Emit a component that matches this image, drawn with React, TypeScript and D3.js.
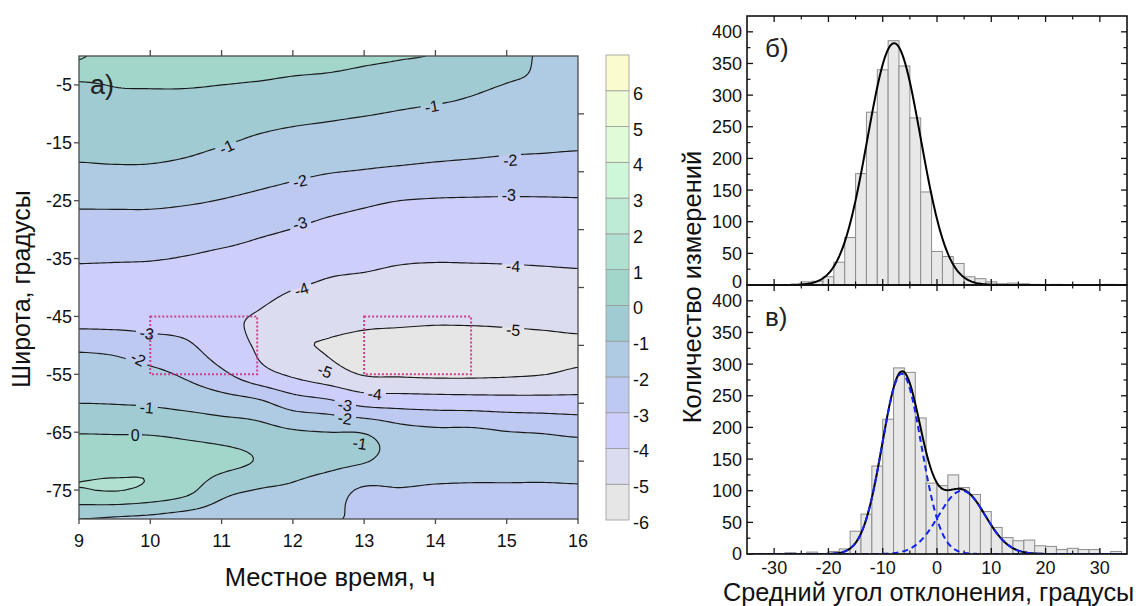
import React, { useMemo } from "react";
import * as d3 from "d3";

// ---------- Panel a: contour map of mean deviation ----------
const hours = [9, 9.5, 10, 10.5, 11, 11.5, 12, 12.5, 13, 13.5, 14, 14.5, 15, 15.5, 16];
const latitudes = [0, -5, -10, -15, -20, -25, -30, -35, -40, -45, -50, -55, -60, -65, -70, -75, -80];
// rows = latitudes, columns = hours
const deviationGrid = [
  [1.1, 0.5, 0.45, 0.45, 0.5, 0.55, 0.4, 0.3, 0.15, 0.05, -0.05, -0.45, -0.75, -1.08, -1.25],
  [-0.1, 0.03, 0.05, 0.05, 0.0, -0.08, -0.2, -0.27, -0.39, -0.5, -0.6, -0.84, -1.02, -1.12, -1.47],
  [-0.4, -0.34, -0.32, -0.36, -0.45, -0.63, -0.76, -0.85, -0.95, -1.07, -1.18, -1.26, -1.4, -1.46, -1.6],
  [-0.74, -0.7, -0.7, -0.76, -0.93, -1.15, -1.3, -1.4, -1.55, -1.58, -1.64, -1.7, -1.78, -1.82, -1.88],
  [-1.16, -1.13, -1.14, -1.26, -1.49, -1.66, -1.81, -1.96, -2.05, -2.14, -2.22, -2.28, -2.34, -2.37, -2.4],
  [-1.83, -1.82, -1.82, -1.9, -2.03, -2.2, -2.4, -2.66, -2.85, -3.0, -3.06, -3.08, -3.09, -3.08, -3.06],
  [-2.38, -2.39, -2.4, -2.48, -2.62, -2.84, -3.02, -3.24, -3.35, -3.44, -3.5, -3.5, -3.5, -3.48, -3.46],
  [-2.89, -2.92, -2.95, -3.05, -3.2, -3.3, -3.45, -3.7, -3.78, -3.9, -3.94, -3.93, -3.92, -3.89, -3.86],
  [-3.5, -3.5, -3.5, -3.55, -3.7, -3.67, -3.95, -4.15, -4.25, -4.35, -4.39, -4.38, -4.34, -4.32, -4.27],
  [-3.5, -3.5, -3.45, -3.5, -3.9, -4.05, -4.5, -4.6, -4.75, -4.8, -4.84, -4.83, -4.8, -4.75, -4.69],
  [-2.2, -2.3, -2.6, -2.85, -3.55, -4.1, -4.85, -5.05, -5.2, -5.25, -5.3, -5.3, -5.25, -5.2, -5.12],
  [-1.54, -1.58, -1.77, -2.15, -2.8, -3.6, -4.15, -4.6, -5.05, -5.1, -5.15, -5.15, -5.1, -5.02, -4.85],
  [-1.0, -1.03, -1.1, -1.27, -1.5, -1.75, -2.43, -2.74, -3.25, -3.35, -3.42, -3.46, -3.52, -3.55, -3.58],
  [-0.04, -0.06, -0.1, -0.25, -0.45, -0.63, -0.9, -1.0, -1.05, -1.6, -1.8, -1.8, -1.97, -2.05, -2.18],
  [0.5, 0.5, 0.75, 0.55, 0.3, -0.05, -0.55, -0.75, -0.95, -1.3, -1.4, -1.42, -1.45, -1.5, -1.5],
  [0.95, 1.04, 0.8, 0.3, -0.7, -1.03, -1.2, -1.6, -2.1, -2.05, -2.15, -2.2, -2.2, -2.2, -2.15],
  [-1.0, -1.1, -1.2, -1.4, -1.5, -1.65, -1.78, -1.95, -2.08, -2.3, -2.5, -2.6, -2.65, -2.65, -2.6],
];

const bandLevels = [-6, -5, -4, -3, -2, -1, 0, 1, 2, 3, 4, 5, 6];
const bandColors = [
  "#e6e6e6", "#dcdcf1", "#cdcef9", "#bec9f1", "#afcbe3", "#a0cbd3", "#a2d6cb",
  "#b0e0d0", "#beebd5", "#cef7da", "#e0fbd8", "#eefcd6", "#fafccd",
];
const colorbarTicks = [6, 5, 4, 3, 2, 1, 0, -1, -2, -3, -4, -5, -6];
const lineLevels = [-5, -4, -3, -2, -1, 0, 1];
const contourLabels = [
  { text: "-1", h: 11.07, lat: -15.7, angle: -25 },
  { text: "-1", h: 13.95, lat: -8.7, angle: -10 },
  { text: "-2", h: 12.1, lat: -21.6, angle: -12 },
  { text: "-2", h: 15.05, lat: -18.0, angle: -3 },
  { text: "-3", h: 12.1, lat: -28.9, angle: -15 },
  { text: "-3", h: 15.03, lat: -24.1, angle: 0 },
  { text: "-4", h: 12.12, lat: -40.3, angle: -18 },
  { text: "-4", h: 15.09, lat: -36.3, angle: 2 },
  { text: "-3", h: 9.95, lat: -47.9, angle: 8 },
  { text: "-2", h: 9.83, lat: -52.3, angle: 28 },
  { text: "-1", h: 9.95, lat: -60.7, angle: 5 },
  { text: "0", h: 9.79, lat: -65.5, angle: 0 },
  { text: "-5", h: 15.09, lat: -47.3, angle: 4 },
  { text: "-5", h: 12.45, lat: -54.4, angle: 20 },
  { text: "-4", h: 13.15, lat: -58.4, angle: 5 },
  { text: "-3", h: 12.73, lat: -60.3, angle: 10 },
  { text: "-2", h: 12.73, lat: -62.6, angle: 8 },
  { text: "-1", h: 12.94, lat: -66.9, angle: 8 },
];
const regionBoxes = [
  { h0: 10, h1: 11.5, lat0: -45, lat1: -55 },
  { h0: 13, h1: 14.5, lat0: -45, lat1: -55 },
];
const hourTicks = [9, 10, 11, 12, 13, 14, 15, 16];
const latLabelTicks = [-5, -15, -25, -35, -45, -55, -65, -75];
const latRightTicks = [-10, -20, -30, -40, -50, -60, -70];

// ---------- Panels b, c: histograms ----------
const binWidth = 2;
const topBinStarts = [-25, -23, -21, -19, -17, -15, -13, -11, -9, -7, -5, -3, -1, 1, 3, 5, 7, 9, 11, 13, 15, 17, 21, 31];
const topCounts = [5, 6, 13, 36, 75, 176, 273, 340, 386, 346, 264, 147, 53, 45, 34, 13, 10, 5, 2, 3, 2, 1, 1, 1];
const botBinStarts = [-28, -24, -20, -18, -16, -14, -12, -10, -8, -6, -4, -2, 0, 2, 4, 6, 8, 10, 12, 14, 16, 18, 20, 22, 24, 26, 28, 32];
const botCounts = [2, 3, 4, 8, 36, 63, 139, 213, 294, 287, 215, 112, 108, 125, 105, 94, 67, 42, 26, 21, 22, 13, 12, 7, 9, 7, 7, 4];
const topFit = { amp: 382, center: -7.9, sigma: 4.9 };
const botFit1 = { amp: 285, center: -6.5, sigma: 3.6 };
const botFit2 = { amp: 100, center: 4.6, sigma: 4.3 };
const histXTicksMajor = [-30, -20, -10, 0, 10, 20, 30];
const histXTicksMinor = [-25, -15, -5, 5, 15, 25];
const histYTicksMajor = [0, 50, 100, 150, 200, 250, 300, 350, 400];
const histYTicksMinor = [25, 75, 125, 175, 225, 275, 325, 375];

const FONT = "Arial, 'Liberation Sans', sans-serif";

function catmull(p0: number, p1: number, p2: number, p3: number, t: number) {
  return 0.5 * (2 * p1 + (-p0 + p2) * t + (2 * p0 - 5 * p1 + 4 * p2 - p3) * t * t + (-p0 + 3 * p1 - 3 * p2 + p3) * t * t * t);
}

function sampleGrid(fi: number, fj: number) {
  const nR = latitudes.length, nC = hours.length;
  const i1 = Math.min(Math.floor(fi), nR - 2);
  const j1 = Math.min(Math.floor(fj), nC - 2);
  const ti = fi - i1, tj = fj - j1;
  const get = (i: number, j: number) =>
    deviationGrid[Math.max(0, Math.min(nR - 1, i))][Math.max(0, Math.min(nC - 1, j))];
  const r = [-1, 0, 1, 2].map((di) => {
    const i = i1 + di;
    return catmull(get(i, j1 - 1), get(i, j1), get(i, j1 + 1), get(i, j1 + 2), tj);
  });
  return catmull(r[0], r[1], r[2], r[3], ti);
}

export default function App() {
  const W = 1144, H = 606;

  const xC = d3.scaleLinear().domain([9, 16]).range([79, 578]);
  const yC = d3.scaleLinear().domain([0, -80]).range([56, 519]);
  const cbY = d3.scaleLinear().domain([-6, 7]).range([520, 55]);

  const { fills, lines } = useMemo(() => {
    const sub = 10;
    const nx = (hours.length - 1) * sub + 1;
    const ny = (latitudes.length - 1) * sub + 1;
    const values = new Array(nx * ny);
    for (let k = 0; k < ny; k++) for (let j = 0; j < nx; j++) values[k * nx + j] = sampleGrid(k / sub, j / sub);
    const dh = (hours[1] - hours[0]) / sub;
    const dl = (latitudes[1] - latitudes[0]) / sub;
    const proj = d3.geoTransform({
      point(x: number, y: number) {
        (this as any).stream.point(xC(hours[0] + (x - 0.5) * dh), yC(latitudes[0] + (y - 0.5) * dl));
      },
    });
    const path = d3.geoPath(proj as any);
    const cs = d3.contours().size([nx, ny]).thresholds(bandLevels)(values);
    const fills = cs.map((c) => ({ d: path(c as any) || "", color: bandColors[bandLevels.indexOf(c.value)] }));
    const lines = cs.filter((c) => lineLevels.includes(c.value)).map((c) => ({ d: path(c as any) || "", v: c.value }));
    return { fills, lines };
  }, []);

  const xH = d3.scaleLinear().domain([-35, 35]).range([747, 1127]);
  const yTop = d3.scaleLinear().domain([0, 425]).range([285, 16]);
  const yBot = d3.scaleLinear().domain([0, 425]).range([554, 285]);
  const gauss = (p: { amp: number; center: number; sigma: number }, x: number) =>
    p.amp * Math.exp(-((x - p.center) ** 2) / (2 * p.sigma * p.sigma));
  const xs = d3.range(-34, 34.001, 0.2);
  const topLine = d3.line<number>().x((x) => xH(x)).y((x) => yTop(gauss(topFit, x)))(xs) || "";
  const sumLine = d3.line<number>().x((x) => xH(x)).y((x) => yBot(gauss(botFit1, x) + gauss(botFit2, x)))(xs) || "";
  const g1Line = d3.line<number>().x((x) => xH(x)).y((x) => yBot(gauss(botFit1, x)))(xs) || "";
  const g2Line = d3.line<number>().x((x) => xH(x)).y((x) => yBot(gauss(botFit2, x)))(xs) || "";

  const axisCol = "#4a4a4a";
  const px0 = xC(9), px1 = xC(16), py0 = yC(0), py1 = yC(-80);

  const histPanel = (yS: d3.ScaleLinear<number, number>, starts: number[], counts: number[], label: string, showX: boolean) => {
    const [b, t] = yS.range();
    return (
      <g>
        {starts.map((s, i) => (
          <rect key={i} x={xH(s)} y={yS(counts[i])} width={xH(s + binWidth) - xH(s)} height={yS(0) - yS(counts[i])}
            fill="#e8e8e8" stroke="#8c8c8c" strokeWidth={1} />
        ))}
        {histXTicksMajor.map((v) => (
          <g key={"M" + v}>
            <line x1={xH(v)} x2={xH(v)} y1={b} y2={b - 6} stroke="#111" strokeWidth={1.3} />
            <line x1={xH(v)} x2={xH(v)} y1={t} y2={t + 6} stroke="#111" strokeWidth={1.3} />
          </g>
        ))}
        {histXTicksMinor.map((v) => (
          <g key={"m" + v}>
            <line x1={xH(v)} x2={xH(v)} y1={b} y2={b - 3.5} stroke="#111" strokeWidth={1.2} />
            <line x1={xH(v)} x2={xH(v)} y1={t} y2={t + 3.5} stroke="#111" strokeWidth={1.2} />
          </g>
        ))}
        {histYTicksMajor.map((v) => (
          <g key={"yM" + v}>
            <line x1={747} x2={753} y1={yS(v)} y2={yS(v)} stroke="#111" strokeWidth={1.3} />
            <line x1={1127} x2={1121} y1={yS(v)} y2={yS(v)} stroke="#111" strokeWidth={1.3} />
            <text x={742} y={yS(v) - (v === 0 && !showX ? 3 : 0)} dy="0.36em" textAnchor="end" fontSize={18} fill="#111">{v}</text>
          </g>
        ))}
        {histYTicksMinor.map((v) => (
          <g key={"ym" + v}>
            <line x1={747} x2={750.5} y1={yS(v)} y2={yS(v)} stroke="#111" strokeWidth={1.2} />
            <line x1={1127} x2={1123.5} y1={yS(v)} y2={yS(v)} stroke="#111" strokeWidth={1.2} />
          </g>
        ))}
        {showX && histXTicksMajor.map((v) => (
          <text key={"xl" + v} x={xH(v)} y={574} textAnchor="middle" fontSize={18} fill="#111">{v}</text>
        ))}
        <text x={765} y={t + 41} fontSize={26} fill="#222">{label}</text>
      </g>
    );
  };

  return (
    <svg width={W} height={H} viewBox={`0 0 ${W} ${H}`} style={{ position: "absolute", left: 0, top: 0, background: "#fff" }} fontFamily={FONT}>
      <defs>
        <clipPath id="plotClip">
          <rect x={px0} y={py0} width={px1 - px0} height={py1 - py0} />
        </clipPath>
        <mask id="labelMask" maskUnits="userSpaceOnUse" x={0} y={0} width={W} height={H}>
          <rect x={0} y={0} width={W} height={H} fill="#fff" />
          {contourLabels.map((l, i) => {
            const w = l.text.length * 8.5 + 5;
            return (
              <rect key={i} x={-w / 2} y={-7} width={w} height={14} fill="#000"
                transform={`translate(${xC(l.h)},${yC(l.lat)}) rotate(${l.angle})`} />
            );
          })}
        </mask>
        <clipPath id="histClip">
          <rect x={747} y={16} width={380} height={538} />
        </clipPath>
      </defs>

      {/* ----- contour panel ----- */}
      <g clipPath="url(#plotClip)">
        {fills.map((f, i) => (
          <path key={i} d={f.d} fill={f.color} stroke="none" />
        ))}
        <g mask="url(#labelMask)">
          {lines.map((l, i) => (
            <path key={i} d={l.d} fill="none" stroke="#1a1a1a" strokeWidth={1.15} />
          ))}
        </g>
        {regionBoxes.map((b, i) => (
          <rect key={i} x={xC(b.h0)} y={yC(b.lat0)} width={xC(b.h1) - xC(b.h0)} height={yC(b.lat1) - yC(b.lat0)}
            fill="none" stroke="#c8428f" strokeWidth={2} strokeDasharray="2 2" />
        ))}
      </g>
      {contourLabels.map((l, i) => (
        <text key={i} transform={`translate(${xC(l.h)},${yC(l.lat)}) rotate(${l.angle})`} textAnchor="middle"
          dy="0.36em" fontSize={16} fill="#111">{l.text}</text>
      ))}
      <rect x={px0} y={py0} width={px1 - px0} height={py1 - py0} fill="none" stroke={axisCol} strokeWidth={1.3} />
      {hourTicks.map((h) => (
        <g key={"h" + h}>
          <line x1={xC(h)} x2={xC(h)} y1={py1} y2={py1 + 5} stroke={axisCol} strokeWidth={1.3} />
          <text x={xC(h)} y={547} textAnchor="middle" fontSize={18} fill="#111">{h}</text>
          {h > 9 && h < 16 && <line x1={xC(h)} x2={xC(h)} y1={py0} y2={py0 - 6} stroke={axisCol} strokeWidth={1.3} />}
        </g>
      ))}
      {latLabelTicks.map((v) => (
        <g key={"l" + v}>
          <line x1={px0} x2={px0 - 5} y1={yC(v)} y2={yC(v)} stroke={axisCol} strokeWidth={1.3} />
          <text x={72} y={yC(v)} dy="0.36em" textAnchor="end" fontSize={18} fill="#111">{v}</text>
        </g>
      ))}
      {latRightTicks.map((v) => (
        <line key={"r" + v} x1={px1} x2={px1 + 6} y1={yC(v)} y2={yC(v)} stroke={axisCol} strokeWidth={1.3} />
      ))}
      <text x={90} y={94} fontSize={27} fill="#222">а)</text>
      <text x={330} y={586} textAnchor="middle" fontSize={25.5} fill="#111">Местное время, ч</text>
      <text transform={`translate(30,289) rotate(-90)`} textAnchor="middle" fontSize={25} fill="#111">Широта, градусы</text>

      {/* ----- colorbar ----- */}
      {bandLevels.map((v, i) => (
        <rect key={"cb" + v} x={606} y={cbY(v + 1)} width={23} height={cbY(v) - cbY(v + 1)} fill={bandColors[i]}
          stroke="#9a9a9a" strokeWidth={0.8} />
      ))}
      {colorbarTicks.map((v) => (
        <text key={"cbt" + v} x={633} y={cbY(v)} dy="0.5em" fontSize={18} fill="#111">{v}</text>
      ))}

      {/* ----- histograms ----- */}
      {histPanel(yTop, topBinStarts, topCounts, "б)", false)}
      {histPanel(yBot, botBinStarts, botCounts, "в)", true)}
      <g clipPath="url(#histClip)">
        <path d={topLine} fill="none" stroke="#000" strokeWidth={2} />
        <path d={sumLine} fill="none" stroke="#000" strokeWidth={2} />
        <path d={g1Line} fill="none" stroke="#1424f0" strokeWidth={2} strokeDasharray="6 4" />
        <path d={g2Line} fill="none" stroke="#1424f0" strokeWidth={2} strokeDasharray="6 4" />
      </g>
      <rect x={747} y={16} width={380} height={269} fill="none" stroke="#111" strokeWidth={1.6} />
      <rect x={747} y={285} width={380} height={269} fill="none" stroke="#111" strokeWidth={1.6} />
      <text transform={`translate(701,287) rotate(-90)`} textAnchor="middle" fontSize={25.5} fill="#111">Количество измерений</text>
      <text x={723} y={601} fontSize={25.3} fill="#111">Средний угол отклонения, градусы</text>
    </svg>
  );
}
